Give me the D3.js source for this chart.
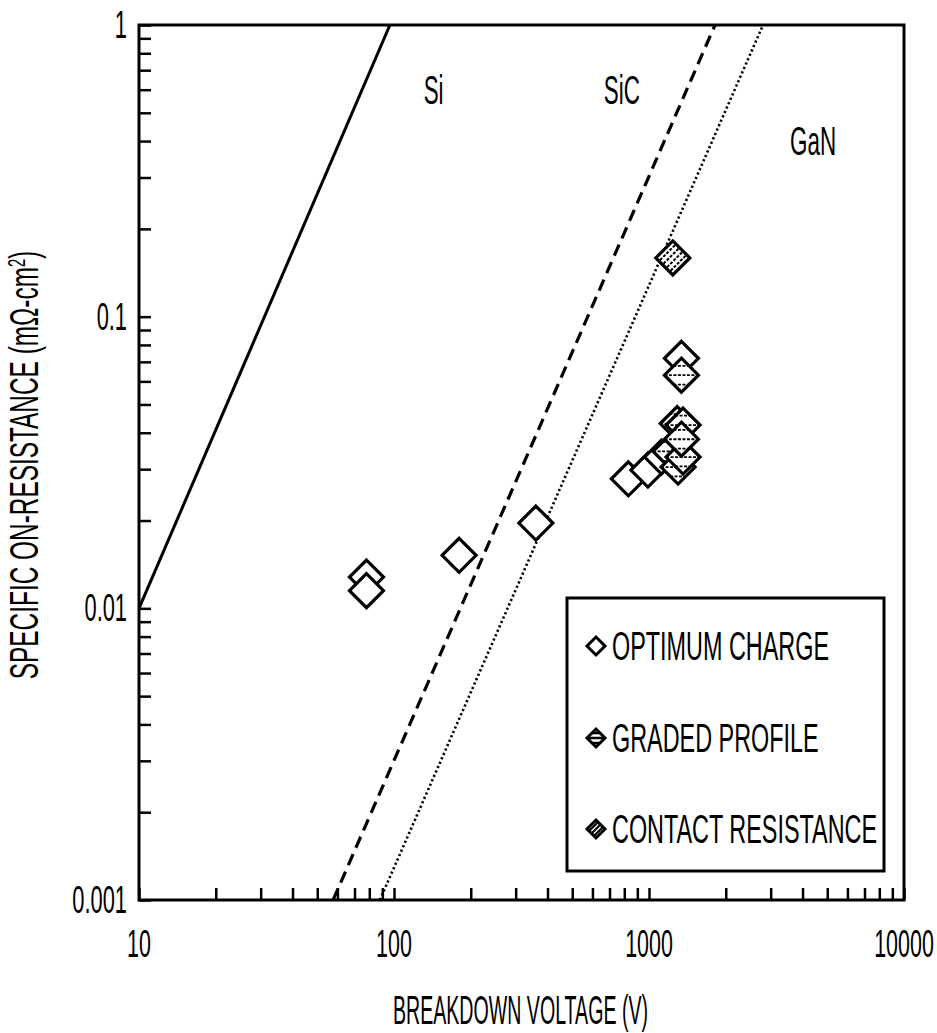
<!DOCTYPE html>
<html>
<head>
<meta charset="utf-8">
<script src="https://cdn.jsdelivr.net/npm/d3@7"></script>
<style>
  body { margin: 0; background: #fff; }
  text { font-family: "Liberation Sans", Arial, sans-serif; fill: #000; }
</style>
</head>
<body>
<svg id="chart" width="937" height="1033"></svg>
<script>
// Axis ticks
const xTickValues = [10, 100, 1000, 10000];
const xTickLabels = ["10", "100", "1000", "10000"];
const yTickValues = [0.001, 0.01, 0.1, 1];
const yTickLabels = ["0.001", "0.01", "0.1", "1"];

// Theoretical limits (breakdown voltage V, specific on-resistance)
const siLimit  = [[10, 0.01], [96.4, 1]];
const sicLimit = [[57.7, 0.001], [1815, 1]];
const ganLimit = [[88, 0.001], [2800, 1]];

// Material labels and their anchor points in data units
const materialNames = ["Si", "SiC", "GaN"];
const materialAnchors = [[143, 0.60], [783, 0.60], [4400, 0.40]];

// Measured devices
const optimumCharge = [
  [78, 0.0128], [78, 0.0115], [180, 0.0152], [360, 0.0196],
  [830, 0.0278], [990, 0.0298], [1120, 0.0330], [1340, 0.072]
];
const gradedProfile = [
  [1210, 0.0345], [1300, 0.0305], [1360, 0.0330], [1290, 0.0430],
  [1360, 0.0425], [1340, 0.0380], [1340, 0.0630]
];
const contactResistance = [[1240, 0.159]];

const legendNames = ["OPTIMUM CHARGE", "GRADED PROFILE", "CONTACT RESISTANCE"];

// ---- layout ----
const svg = d3.select("#chart");
const L = 139, R = 904, T = 25, B = 900;

const x = d3.scaleLog().domain([10, 10000]).range([L, R]);
const y = d3.scaleLog().domain([0.001, 1]).range([B, T]);

function allLogTicks(lo, hi) {
  const t = [];
  for (let d = lo; d < hi; d *= 10)
    for (let k = 1; k <= 10; k++) t.push(+(d * k).toPrecision(6));
  return Array.from(new Set(t));
}

// condensed text helper
function ctext(g, px, py, str, anchor, size, sx) {
  return g.append("text")
    .attr("transform", `translate(${px},${py}) scale(${sx},1)`)
    .attr("text-anchor", anchor)
    .style("font-size", size + "px")
    .text(str);
}

// ---- axes (ticks inward) ----
const xAxis = d3.axisBottom(x).tickValues(allLogTicks(10, 10000))
  .tickSizeInner(-12).tickSizeOuter(0).tickFormat("");
svg.append("g").attr("transform", `translate(0,${B})`).call(xAxis)
  .call(g => g.select(".domain").remove())
  .call(g => g.selectAll(".tick line").attr("stroke", "#000").attr("stroke-width", 2.5));

const yAxis = d3.axisLeft(y).tickValues(allLogTicks(0.001, 1))
  .tickSizeInner(-12).tickSizeOuter(0).tickFormat("");
svg.append("g").attr("transform", `translate(${L},0)`).call(yAxis)
  .call(g => g.select(".domain").remove())
  .call(g => g.selectAll(".tick line").attr("stroke", "#000").attr("stroke-width", 2.5));

// frame
svg.append("rect").attr("x", L).attr("y", T).attr("width", R - L).attr("height", B - T)
  .attr("fill", "none").attr("stroke", "#000").attr("stroke-width", 3);

// tick labels
const labels = svg.append("g");
xTickValues.forEach((v, i) => ctext(labels, x(v), 957, xTickLabels[i], "middle", 39, 0.55));
yTickValues.forEach((v, i) => ctext(labels, 127, y(v) + 13, yTickLabels[i], "end", 39, 0.56));

// axis titles
ctext(svg, (L + R) / 2 - 1, 1024, "BREAKDOWN VOLTAGE (V)", "middle", 40, 0.49);
const yt = svg.append("text")
  .attr("transform", `translate(38,465) rotate(-90) scale(0.61,1)`)
  .attr("text-anchor", "middle")
  .style("font-size", "40px");
yt.append("tspan").text("SPECIFIC ON-RESISTANCE (m\u03A9-cm");
yt.append("tspan").attr("dy", -13).style("font-size", "24px").text("2");
yt.append("tspan").attr("dy", 13).text(")");

// ---- limit lines ----
const plot = svg.append("g");
const clip = svg.append("clipPath").attr("id", "plot-clip");
clip.append("rect").attr("x", L).attr("y", T).attr("width", R - L).attr("height", B - T);
const line = d3.line().x(d => x(d[0])).y(d => y(d[1]));
const lines = plot.append("g").attr("clip-path", "url(#plot-clip)");
lines.append("path").datum(siLimit).attr("d", line)
  .attr("fill", "none").attr("stroke", "#000").attr("stroke-width", 3);
lines.append("path").datum(sicLimit).attr("d", line)
  .attr("fill", "none").attr("stroke", "#000").attr("stroke-width", 3.2)
  .attr("stroke-dasharray", "12,7");
lines.append("path").datum(ganLimit).attr("d", line)
  .attr("fill", "none").attr("stroke", "#000").attr("stroke-width", 2.6)
  .attr("stroke-dasharray", "2.2,2.6");

materialNames.forEach((n, i) =>
  ctext(plot, x(materialAnchors[i][0]), y(materialAnchors[i][1]) + 14, n, "middle", 40, 0.56));

// ---- markers ----
const diamond = r => `M0,${-r}L${r},0L0,${r}L${-r},0Z`;
const defs = svg.append("defs");
function addClip(id, r) {
  defs.append("clipPath").attr("id", id).append("path").attr("d", diamond(r));
}
addClip("dia-big", 17);
addClip("dia-small", 9);

function drawMarker(g, kind, r, clipId, sw) {
  g.append("path").attr("d", diamond(r)).attr("fill", "#fff");
  const inner = g.append("g").attr("clip-path", `url(#${clipId})`);
  if (kind === "graded") {
    const step = r * 0.55;
    [-step, 0, step].forEach(o =>
      inner.append("line").attr("x1", -r).attr("x2", r).attr("y1", o).attr("y2", o)
        .attr("stroke", "#000").attr("stroke-width", r > 10 ? 1.8 : 2.4)
        .attr("stroke-dasharray", r > 10 ? "3,1.5" : null));
  } else if (kind === "contact") {
    const offs = r > 10 ? [-7.5, -2.5, 2.5, 7.5] : [-3.5, 0, 3.5];
    offs.forEach(o => {
      // stripes running parallel to the lower-left / upper-right edges
      const c = o * Math.SQRT2 / 2;
      inner.append("line")
        .attr("x1", -r + c).attr("y1", r + c).attr("x2", r + c).attr("y2", -r + c)
        .attr("stroke", "#000").attr("stroke-width", r > 10 ? 2 : 2.2)
        .attr("stroke-dasharray", r > 10 ? "3,1.5" : null);
    });
  }
  g.append("path").attr("d", diamond(r)).attr("fill", "none")
    .attr("stroke", "#000").attr("stroke-width", sw).attr("stroke-linejoin", "miter");
}

const seriesList = [
  ["open", optimumCharge],
  ["graded", gradedProfile],
  ["contact", contactResistance]
];
const markers = plot.append("g");
seriesList.forEach(([kind, data]) => {
  markers.selectAll(null).data(data).enter().append("g")
    .attr("transform", d => `translate(${x(d[0])},${y(d[1])})`)
    .each(function () { drawMarker(d3.select(this), kind, 17, "dia-big", 3.2); });
});

// ---- legend ----
const lg = svg.append("g");
lg.append("rect").attr("x", 567).attr("y", 598).attr("width", 317).attr("height", 273)
  .attr("fill", "#fff").attr("stroke", "#000").attr("stroke-width", 3);
const legendRows = [646, 738, 829];
["open", "graded", "contact"].forEach((kind, i) => {
  const g = lg.append("g").attr("transform", `translate(596,${legendRows[i]})`);
  drawMarker(g, kind, 9, "dia-small", 3);
  ctext(lg, 612, legendRows[i] + 14, legendNames[i], "start", 40, 0.585);
});
</script>
</body>
</html>
